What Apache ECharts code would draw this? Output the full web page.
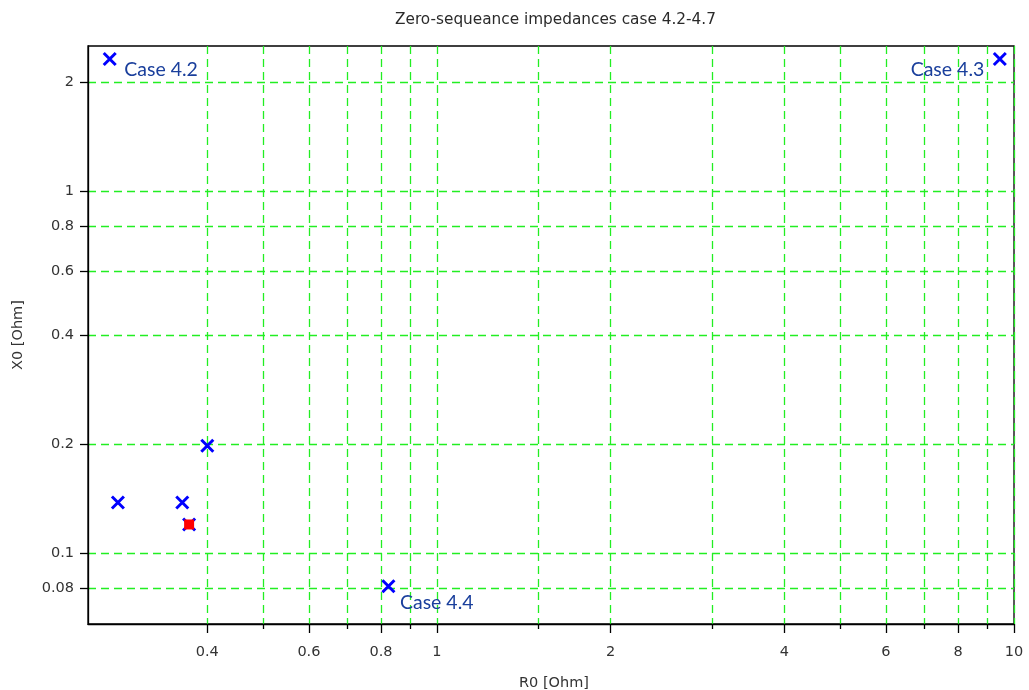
<!DOCTYPE html>
<html><head><meta charset="utf-8">
<script src="https://cdn.jsdelivr.net/npm/echarts@6/dist/echarts.min.js"></script>
<style>html,body{margin:0;padding:0;background:#fff}#c{width:1029px;height:690px}</style>
</head><body><div id="c"></div>
<script>
var R0 = [0.271, 9.45, 0.40, 0.28, 0.362, 0.372, 0.824];
var X0 = [2.32, 2.32, 0.198, 0.138, 0.138, 0.12, 0.081];
var caseLabels = ['Case 4.2', 'Case 4.3', '', '', '', '', 'Case 4.4'];
var highlightIndex = 5;
var xMajorTicks = [0.4, 0.6, 0.8, 1, 2, 4, 6, 8, 10];
var xMinorTicks = [0.5, 0.7, 0.9, 1.5, 3, 5, 7, 9];
var yTicks = [0.08, 0.1, 0.2, 0.4, 0.6, 0.8, 1, 2];
var xRange = [0.2485, 10];
var yRange = [0.0637, 2.52];

var labelStyles = {
  'Case 4.2': {position: 'right', offset: [2, 11]},
  'Case 4.3': {position: 'left', offset: [-3, 11]},
  'Case 4.4': {position: 'right', offset: [-1, 16]}
};
var fmt = function (v) { return String(+(+v).toPrecision(6)); };
var grid = '#22ee22';
var sans = 'DejaVu Sans';
var pts = R0.map(function (r, i) {
  var d = {value: [r, X0[i]]};
  var lab = caseLabels[i];
  if (lab) {
    d.label = Object.assign({show: true, formatter: lab}, labelStyles[lab]);
  }
  return d;
});
var chart = echarts.init(document.getElementById('c'));
chart.setOption({
  animation: false,
  title: {text: 'Zero-sequeance impedances case 4.2-4.7', left: 390, top: 8,
    textStyle: {fontFamily: sans, fontSize: 15.3, fontWeight: 'normal', color: '#2a2a2a'}},
  grid: {left: 88, right: 15, top: 46, bottom: 66, outerBoundsMode: 'none', containLabel: false,
    show: true, borderColor: '#000', borderWidth: 1.3, backgroundColor: '#fff'},
  xAxis: [{
    type: 'log', min: xRange[0], max: xRange[1],
    name: 'R0 [Ohm]', nameLocation: 'middle', nameGap: 52,
    nameTextStyle: {fontFamily: sans, fontSize: 14.5, color: '#333', padding: [0, 0, 0, 6]},
    axisLine: {lineStyle: {color: '#000', width: 1.3}},
    axisTick: {customValues: xMajorTicks, length: 9, lineStyle: {color: '#000', width: 1.3}},
    axisLabel: {customValues: xMajorTicks, formatter: fmt, margin: 21,
      fontFamily: sans, fontSize: 14.5, color: '#333'},
    splitLine: {show: true, lineStyle: {color: grid, type: [8, 5], width: 1.3}}
  }, {
    type: 'log', min: xRange[0], max: xRange[1], position: 'bottom',
    axisLine: {show: false},
    axisTick: {customValues: xMinorTicks, length: 5, lineStyle: {color: '#000', width: 1.3}},
    axisLabel: {show: false},
    splitLine: {show: true, lineStyle: {color: grid, type: [8, 5], width: 1.3}}
  }],
  yAxis: {
    type: 'log', min: yRange[0], max: yRange[1],
    name: 'X0 [Ohm]', nameLocation: 'middle', nameGap: 62,
    nameTextStyle: {fontFamily: sans, fontSize: 14.5, color: '#333'},
    axisLine: {lineStyle: {color: '#000', width: 1.3}},
    axisTick: {customValues: yTicks, length: 8, lineStyle: {color: '#000', width: 1.3}},
    axisLabel: {customValues: yTicks, formatter: fmt, margin: 14,
      fontFamily: sans, fontSize: 14.5, color: '#333'},
    splitLine: {show: true, lineStyle: {color: grid, type: [8, 5], width: 1.3}}
  },
  series: [{
    type: 'scatter', xAxisIndex: 0, z: 3,
    symbol: 'path://M0,0L10,10M10,0L0,10', symbolSize: 12,
    itemStyle: {color: '#0000ff', borderColor: '#0000ff', borderWidth: 3, opacity: 1},
    label: {color: '#1a3f9c', fontFamily: 'Lato', fontSize: 19.5},
    data: pts
  }, {
    type: 'scatter', xAxisIndex: 0, z: 4,
    symbol: 'rect', symbolSize: 10,
    itemStyle: {color: '#ff0000', opacity: 1},
    data: [[R0[highlightIndex], X0[highlightIndex]]]
  }]
});
</script></body></html>
